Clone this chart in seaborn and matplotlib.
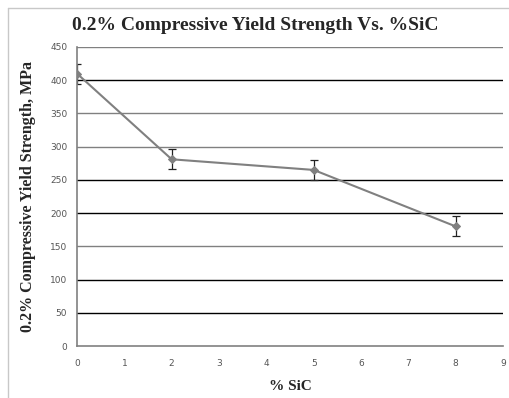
import matplotlib
matplotlib.use("Agg")
import matplotlib.pyplot as plt
import seaborn as sns
import pandas as pd
from matplotlib.lines import Line2D

sic = [0, 2, 5, 8]
strength = [410, 281, 265, 180]
err = [15, 15, 15, 15]
yticks = [0, 50, 100, 150, 200, 250, 300, 350, 400, 450]
xticks = [0, 1, 2, 3, 4, 5, 6, 7, 8, 9]
grid_colors = ["#808080", "#000000", "#000000", "#808080", "#000000",
               "#000000", "#808080", "#808080", "#000000", "#808080"]

df = pd.DataFrame({"sic": sic, "strength": strength, "err": err})

sns.set_style("white")
fig = plt.figure(figsize=(5.10, 3.98), dpi=100)
bx, by = 8.5 / 510, 1 - 7.5 / 398
fig.lines.append(Line2D([bx, bx], [0, by], transform=fig.transFigure, color="#c8c8c8", linewidth=1.0))
fig.lines.append(Line2D([bx, 1], [by, by], transform=fig.transFigure, color="#c8c8c8", linewidth=1.0))
ax = fig.add_axes([77/510, 1 - 346/398, (503 - 77)/510, (346 - 47)/398])

for t, c in zip(yticks[1:], grid_colors[1:]):
    ax.axhline(t, color=c, linewidth=1.0, zorder=0)

ax.errorbar(df["sic"], df["strength"], yerr=df["err"], fmt="none",
            ecolor="#222222", elinewidth=0.9, capsize=3, capthick=0.9, zorder=2)
sns.lineplot(data=df, x="sic", y="strength", ax=ax, color="#808080",
             linewidth=1.5, marker="D", markersize=4, markeredgecolor="#808080", zorder=3)

ax.set_xlim(0, 9)
ax.set_ylim(0, 450)
ax.set_xticks(xticks)
ax.set_yticks(yticks)
ax.tick_params(axis="both", labelsize=6.5, labelcolor="#555555", color="#808080",
               length=3, width=1, direction="out", pad=6)
ax.tick_params(axis="y", pad=4)
for s in ["top", "right"]:
    ax.spines[s].set_visible(False)
for s in ["left", "bottom"]:
    ax.spines[s].set_color("#808080")
    ax.spines[s].set_linewidth(1.2)

ax.set_xlabel("% SiC", fontfamily="Liberation Serif", fontweight="bold", fontsize=11, labelpad=9)
ax.set_ylabel("0.2% Compressive Yield Strength, MPa", fontfamily="Liberation Serif",
              fontweight="bold", fontsize=11.5, labelpad=10)
fig.text(0.5, 1 - 25/398, "0.2% Compressive Yield Strength Vs. %SiC",
         fontfamily="Liberation Serif", fontweight="bold", fontsize=14,
         ha="center", va="center")

fig.savefig("out.png", dpi=100)
